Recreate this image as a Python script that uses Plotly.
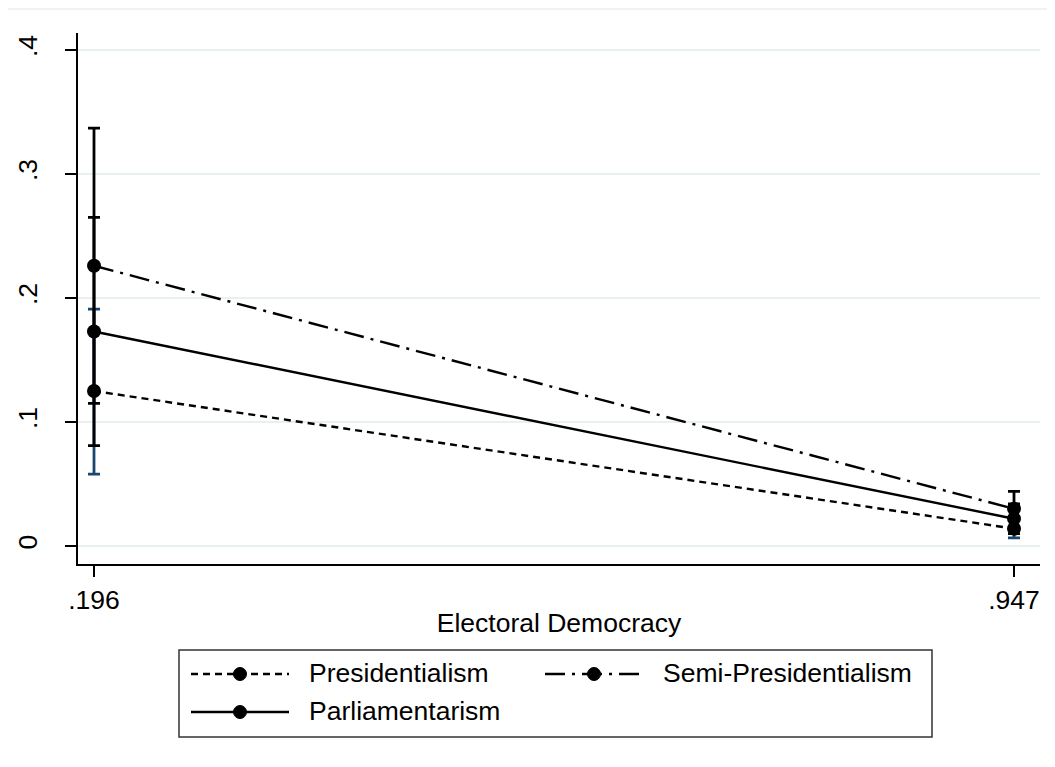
import plotly.graph_objects as go

# ---- data ----
x_vals = [0.196, 0.947]
x_ticktext = [".196", ".947"]
y_tickvals = [0, 0.1, 0.2, 0.3, 0.4]
y_ticktext = ["0", ".1", ".2", ".3", ".4"]

series_names = ["Presidentialism", "Semi-Presidentialism", "Parliamentarism"]
pres_est = [0.125, 0.014]
pres_lo = [0.058, 0.0065]
pres_hi = [0.191, 0.022]
semi_est = [0.226, 0.030]
semi_lo = [0.115, 0.016]
semi_hi = [0.337, 0.044]
parl_est = [0.173, 0.022]
parl_lo = [0.081, 0.010]
parl_hi = [0.265, 0.034]

FONT = "Liberation Sans, Arial, Helvetica, sans-serif"
BLUE = "#1a476f"
GRID = "#e8f0f2"

styles = [
    dict(dash="7px,5px", ebcolor=BLUE),
    dict(dash="20px,7px,3px,7px", ebcolor="black"),
    dict(dash="solid", ebcolor="black"),
]
ests = [pres_est, semi_est, parl_est]
los = [pres_lo, semi_lo, parl_lo]
his = [pres_hi, semi_hi, parl_hi]

fig = go.Figure()
for name, est, lo, hi, st in zip(series_names, ests, los, his, styles):
    fig.add_trace(go.Scatter(
        x=x_vals, y=est, name=name, mode="lines+markers",
        line=dict(color="black", width=2.4, dash=st["dash"]),
        marker=dict(color="black", size=14),
        error_y=dict(type="data", symmetric=False,
                     array=[h - e for h, e in zip(hi, est)],
                     arrayminus=[e - l for e, l in zip(est, lo)],
                     color=st["ebcolor"], thickness=2.8, width=6),
        showlegend=False,
    ))

# page body has an 8px default margin; work in screen pixels
OFF = 8
FIG_W, FIG_H = 1055 - OFF, 767 - OFF
L, R, T, B = 78, 1040, 33, 564  # plot area in screen pixels
W, H = R - L, B - T


def px(xs):
    return (xs - L) / W


def py(ys):
    return (B - ys) / H


shapes = []
annotations = []
# faint outer border line at top
shapes.append(dict(type="line", xref="paper", yref="paper",
                   x0=px(OFF), x1=px(1055), y0=py(9), y1=py(9),
                   line=dict(color=GRID, width=1.5)))
# legend box
shapes.append(dict(type="rect", xref="paper", yref="paper",
                   x0=px(179), x1=px(932), y0=py(650), y1=py(737),
                   line=dict(color="#333333", width=1.5), fillcolor="white"))
legend_pos = [(191, 674), (545, 674), (191, 712)]
for name, st, (lx, ly) in zip(series_names, styles, legend_pos):
    shapes.append(dict(type="line", xref="paper", yref="paper",
                       x0=px(lx), x1=px(lx + 98), y0=py(ly), y1=py(ly),
                       line=dict(color="black", width=2.4, dash=st["dash"])))
    shapes.append(dict(type="circle", xref="paper", yref="paper",
                       x0=px(lx + 49 - 6.5), x1=px(lx + 49 + 6.5),
                       y0=py(ly + 6.5), y1=py(ly - 6.5),
                       fillcolor="black", line=dict(color="black", width=1)))
    annotations.append(dict(xref="paper", yref="paper", x=px(lx + 116), y=py(ly),
                            text=name, showarrow=False, xanchor="left", yanchor="middle",
                            xshift=0, yshift=1,
                            font=dict(family=FONT, size=26.5, color="black")))

fig.update_layout(
    width=FIG_W, height=FIG_H,
    margin=dict(l=L - OFF, r=1055 - R, t=T - OFF, b=767 - B, autoexpand=False),
    paper_bgcolor="white", plot_bgcolor="white",
    font=dict(family=FONT, size=26.5, color="black"),
    shapes=shapes, annotations=annotations,
    showlegend=False,
)
fig.update_xaxes(
    range=[0.18294, 0.96822], tickvals=x_vals, ticktext=x_ticktext,
    ticks="outside", ticklen=11, tickwidth=1.5, tickcolor="black",
    showline=True, linecolor="black", linewidth=1.5, showgrid=False, zeroline=False,
    tickfont=dict(size=26.5),
    title=dict(text="Electoral Democracy", font=dict(size=26.5), standoff=0),
)
fig.update_yaxes(
    range=[-0.0145, 0.4137], tickvals=y_tickvals, ticktext=y_ticktext,
    ticks="outside", ticklen=11, tickwidth=1.5, tickcolor="black", tickangle=-90,
    ticklabelstandoff=18,
    showline=True, linecolor="black", linewidth=1.5,
    showgrid=True, gridcolor=GRID, gridwidth=2, zeroline=False,
    tickfont=dict(size=26.5),
)

fig.write_html("out.html")
